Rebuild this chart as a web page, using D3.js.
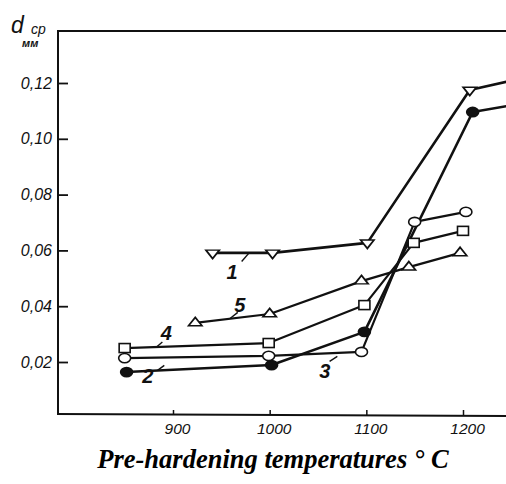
<!DOCTYPE html>
<html><head><meta charset="utf-8">
<script src="https://cdn.jsdelivr.net/npm/d3@7"></script>
<style>
body{margin:0;background:#fff;}
svg{display:block;}
</style></head>
<body>
<svg id="c" width="506" height="484"></svg>
<script>
// ---- data ----
const xTicks = [900, 1000, 1100, 1200];
const yTicks = [0.02, 0.04, 0.06, 0.08, 0.10, 0.12];
const yTickLabels = ["0,02", "0,04", "0,06", "0,08", "0,10", "0,12"];

const s1T = [941, 1003, 1101, 1207, 1250];
const s1V = [0.0591, 0.0591, 0.0627, 0.1175, 0.1208];
const s2T = [852, 1002, 1098, 1210, 1250];
const s2V = [0.0164, 0.0189, 0.0308, 0.1096, 0.1120];
const s3T = [850, 999, 1095, 1150, 1203];
const s3V = [0.0214, 0.0222, 0.0236, 0.0702, 0.0738];
const s4T = [850, 999, 1098, 1149, 1200];
const s4V = [0.0250, 0.0268, 0.0404, 0.0627, 0.0670];
const s5T = [923, 1000, 1095, 1144, 1197];
const s5V = [0.0340, 0.0372, 0.0490, 0.0540, 0.0591];

const seriesNames = ["1", "2", "3", "4", "5"];
const markerKinds = ["down", "filled", "circle", "square", "up"];
const markerCounts = [4, 4, 5, 5, 5];
const labelT = [961, 874, 1057, 893, 969];
const labelV = [0.0522, 0.0150, 0.0169, 0.0304, 0.0405];
const leaderFromT = [971, 884, 1062, 889, 967];
const leaderFromV = [0.0560, 0.0170, 0.0202, 0.0272, 0.0378];
const leaderToT = [979, 891, 1070, 883, 959];
const leaderToV = [0.0592, 0.0188, 0.0220, 0.0254, 0.0356];

// ---- layout ----
(function () {
const svg = d3.select("#c");
const pL = 58, pR = 506, pT = 31, pB = 414;
const x = d3.scaleLinear().domain([900, 1200]).range([173, 463]);
const y = d3.scaleLinear().domain([0.02, 0.12]).range([362, 83]);

svg.append("defs").append("clipPath").attr("id", "clip")
  .append("rect").attr("x", pL).attr("y", pT).attr("width", pR - pL).attr("height", pB - pT);

const ink = "#111";
svg.append("line").attr("x1", pL).attr("x2", pL).attr("y1", pT).attr("y2", pB)
  .attr("stroke", ink).attr("stroke-width", 2);
svg.append("line").attr("x1", pL - 1).attr("x2", pR).attr("y1", pT).attr("y2", pT)
  .attr("stroke", ink).attr("stroke-width", 2);
svg.append("line").attr("x1", pL - 1).attr("x2", pR).attr("y1", pB).attr("y2", pB + 2)
  .attr("stroke", ink).attr("stroke-width", 2.2);

const yAxis = d3.axisLeft(y).tickValues(yTicks).tickSize(-10)
  .tickFormat((d, i) => yTickLabels[i]).tickPadding(16);
const gy = svg.append("g").attr("transform", `translate(${pL},0)`).call(yAxis);
gy.select(".domain").remove();
gy.selectAll(".tick line").attr("stroke", ink).attr("stroke-width", 1.8);
gy.selectAll(".tick text").attr("font-family", "Liberation Sans, Arial, sans-serif")
  .attr("font-style", "italic").attr("font-size", 16).attr("fill", ink)
  .attr("x", -6);

const xAxis = d3.axisBottom(x).tickValues(xTicks).tickSize(-5).tickPadding(8)
  .tickFormat(d3.format("d"));
const gx = svg.append("g").attr("transform", `translate(0,${pB + 1})`).call(xAxis);
gx.select(".domain").remove();
gx.selectAll(".tick line").attr("stroke", ink).attr("stroke-width", 1.5);
gx.selectAll(".tick text").attr("font-family", "Liberation Sans, Arial, sans-serif")
  .attr("font-style", "italic").attr("font-size", 15.5).attr("fill", ink)
  .attr("dx", 4);

const yl = svg.append("g").attr("font-family", "Liberation Sans, Arial, sans-serif")
  .attr("font-style", "italic").attr("fill", ink);
yl.append("text").attr("x", 11).attr("y", 33).attr("font-size", 23).text("d");
yl.append("text").attr("x", 31).attr("y", 34).attr("font-size", 14).text("ср");
yl.append("text").attr("x", 22).attr("y", 47).attr("font-size", 11).attr("font-weight", "bold").text("мм");

const allT = [s1T, s2T, s3T, s4T, s5T];
const allV = [s1V, s2V, s3V, s4V, s5V];
const plot = svg.append("g").attr("clip-path", "url(#clip)");
const line = d3.line().x(d => x(d[0])).y(d => y(d[1]));

allT.forEach((ts, i) => {
  const pts = ts.map((t, j) => [t, allV[i][j]]);
  plot.append("path").datum(pts).attr("d", line)
    .attr("fill", "none").attr("stroke", ink)
    .attr("stroke-width", (i === 0 || i === 1) ? 2.6 : 2.2)
    .attr("stroke-linejoin", "round");
});

allT.forEach((ts, i) => {
  const kind = markerKinds[i];
  const pts = ts.slice(0, markerCounts[i]).map((t, j) => [t, allV[i][j]]);
  const g = plot.append("g");
  pts.forEach(p => {
    const cx = x(p[0]), cy = y(p[1]);
    if (kind === "circle" || kind === "filled") {
      g.append("ellipse").attr("cx", cx).attr("cy", cy).attr("rx", 6).attr("ry", 4.6)
        .attr("fill", kind === "filled" ? ink : "#fff").attr("stroke", ink).attr("stroke-width", 1.6);
    } else if (kind === "square") {
      g.append("rect").attr("x", cx - 5.5).attr("y", cy - 4.5).attr("width", 11).attr("height", 9)
        .attr("fill", "#fff").attr("stroke", ink).attr("stroke-width", 1.6);
    } else {
      const sym = d3.symbol().type(d3.symbolTriangle).size(64)();
      g.append("path").attr("d", sym)
        .attr("transform", `translate(${cx},${cy}) scale(1.1,0.8) rotate(${kind === "down" ? 180 : 0})`)
        .attr("fill", "#fff").attr("stroke", ink).attr("stroke-width", 1.8);
    }
  });
});

seriesNames.forEach((n, i) => {
  svg.append("line")
    .attr("x1", x(leaderFromT[i])).attr("y1", y(leaderFromV[i]))
    .attr("x2", x(leaderToT[i])).attr("y2", y(leaderToV[i]))
    .attr("stroke", ink).attr("stroke-width", 1.4);
  svg.append("text").attr("x", x(labelT[i])).attr("y", y(labelV[i]))
    .attr("text-anchor", "middle").attr("dominant-baseline", "central")
    .attr("font-family", "Liberation Sans, Arial, sans-serif").attr("font-style", "italic")
    .attr("font-weight", "bold").attr("font-size", 20).attr("fill", ink).text(n);
});

svg.append("text").attr("x", 273).attr("y", 468).attr("text-anchor", "middle")
  .attr("font-family", "Liberation Serif, Times New Roman, serif")
  .attr("font-style", "italic").attr("font-weight", "bold").attr("font-size", 26.5)
  .attr("fill", "#000").text("Pre-hardening temperatures ° C");
})();
</script>
</body></html>
